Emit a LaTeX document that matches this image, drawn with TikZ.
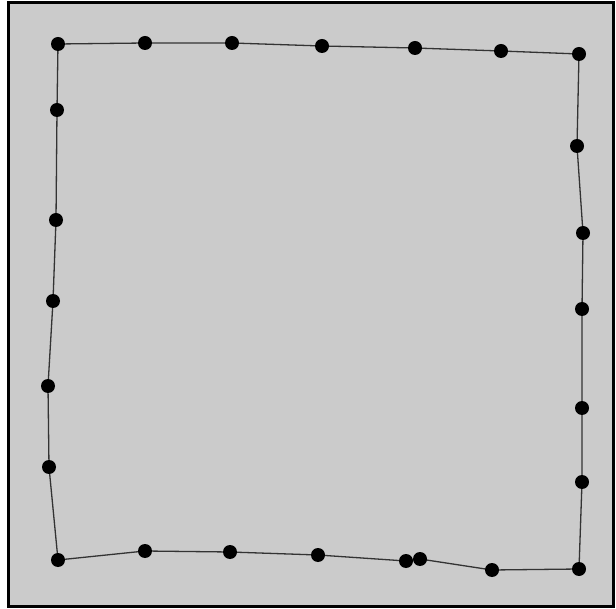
\documentclass[tikz,border=0pt]{standalone}
\begin{document}
\begin{tikzpicture}[x=1pt,y=-1pt,
  dot/.style={circle,fill=black,inner sep=0pt,minimum size=14pt},
  edge/.style={draw=black!80,line width=1.3pt}]
\useasboundingbox (0,0) rectangle (616,609);
\fill[white] (0,0) rectangle (616,609);
\filldraw[fill={rgb,255:red,203;green,203;blue,203},draw=black,line width=3pt] (8,3) rectangle (613,606);
\foreach \n/\x/\y in {t1/58/44,t2/145/43,t3/232/43,t4/322/46,t5/415/48,t6/501/51,t7/579/54,
  r1/577/146,r2/583/233,r3/582/309,r4/582/408,r5/582/482,r6/579/569,
  b1/492/570,b2/420/559,b3/406/561,b4/318/555,b5/230/552,b6/145/551,b7/58/560,
  l1/49/467,l2/48/386,l3/53/301,l4/56/220,l5/57/110}
  \coordinate (\n) at (\x,\y);
\draw[edge] (t1)--(t2)--(t3)--(t4)--(t5)--(t6)--(t7)--(r1)--(r2)--(r3)--(r4)--(r5)--(r6)--(b1)--(b2)--(b3)--(b4)--(b5)--(b6)--(b7)--(l1)--(l2)--(l3)--(l4)--(l5)--cycle;
\foreach \n in {t1,t2,t3,t4,t5,t6,t7,r1,r2,r3,r4,r5,r6,b1,b2,b3,b4,b5,b6,b7,l1,l2,l3,l4,l5}
  \node[dot] (d\n) at (\n) {};
\end{tikzpicture}
\end{document}
